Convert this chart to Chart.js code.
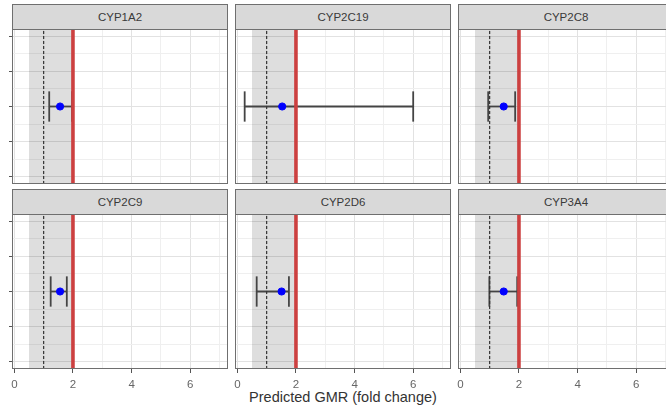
<!DOCTYPE html>
<html>
<head>
<meta charset="utf-8">
<script src="https://cdn.jsdelivr.net/npm/chart.js@4.4.0/dist/chart.umd.min.js"></script>
<style>
  body { margin: 0; background: #fff; }
  #wrap { position: relative; width: 666px; height: 410px; overflow: hidden; font-family: 'Liberation Sans', Arial, sans-serif; }
  #wrap canvas { position: absolute; left: 0; top: 0; }
  .strip { position: absolute; box-sizing: border-box; background: #d9d9d9; border: 1px solid #6f6f6f; color: #3a3a3a; font-size: 11.5px; line-height: 24px; text-align: center; }
  #xtitle { position: absolute; left: 185px; width: 316px; top: 389px; text-align: center; font-size: 14.5px; color: #333; }
</style>
</head>
<body>
<div id="wrap">
  <div id="xtitle">Predicted GMR (fold change)</div>
</div>
<script>
// facets and values
const enzymes = ['CYP1A2', 'CYP2C19', 'CYP2C8', 'CYP2C9', 'CYP2D6', 'CYP3A4'];
const gmr = [1.56, 1.53, 1.48, 1.56, 1.51, 1.48];
const lower = [1.19, 0.25, 0.95, 1.24, 0.66, 0.99];
const upper = [1.97, 6.0, 1.87, 1.79, 1.76, 1.94];
const yPos = 3;

// reference guides
const bandRange = [0.5, 2];
const refLine = 1;
const limitLine = 2;

// axes
const xLimits = [-0.08, 7.29];
const yLimits = [0.8, 5.2];
const xGrid = [0, 1, 2, 3, 4, 5, 6, 7];
const xTickLabels = [0, 2, 4, 6];
const yGrid = [1, 1.5, 2, 2.5, 3, 3.5, 4, 4.5, 5];

// layout
const W = 680, H = 410;
const colLeft = [12, 235, 458];
const rowTop = [29, 214];
const panelW = 216, panelH = 155, stripH = 25;
const xAxisH = 22;
const CAP = 0.43;
const majorGrid = '#e2e2e2', minorGrid = '#efefef';

Chart.defaults.font.family = "'Liberation Sans', Arial, sans-serif";

const panelPlugin = {
  id: 'panel',
  beforeDatasetsDraw(chart) {
    const { ctx, chartArea: a, scales: { x } } = chart;
    const x0 = x.getPixelForValue(bandRange[0]);
    const x1 = x.getPixelForValue(bandRange[1]);
    ctx.save();
    ctx.fillStyle = 'rgba(0,0,0,0.13)';
    ctx.fillRect(x0, a.top, x1 - x0, a.bottom - a.top);
    ctx.restore();
  },
  afterDraw(chart) {
    const { ctx, chartArea: a } = chart;
    ctx.save();
    ctx.strokeStyle = '#6f6f6f';
    ctx.lineWidth = 1;
    ctx.strokeRect(a.left + 0.5, a.top + 0.5, a.right - a.left - 1, a.bottom - a.top - 1);
    ctx.restore();
  }
};

const wrap = document.getElementById('wrap');

enzymes.forEach((name, i) => {
  const col = i % 3, row = Math.floor(i / 3);
  const left = colLeft[col], top = rowTop[row];
  const axisH = row === 1 ? xAxisH : 0;

  const strip = document.createElement('div');
  strip.className = 'strip';
  strip.style.left = left + 'px';
  strip.style.top = (top - stripH) + 'px';
  strip.style.width = panelW + 'px';
  strip.style.height = (stripH + 1) + 'px';
  strip.textContent = name;

  const canvas = document.createElement('canvas');
  canvas.width = W;
  canvas.height = H;
  wrap.appendChild(canvas);
  wrap.appendChild(strip);

  const errStyle = { type: 'line', borderColor: '#444', borderWidth: 1.8, pointRadius: 0 };

  new Chart(canvas, {
    type: 'scatter',
    data: {
      datasets: [
        { data: [{ x: gmr[i], y: yPos }], backgroundColor: '#0000ff', borderColor: '#0000ff', pointRadius: 3.6 },
        { type: 'line', data: [{ x: limitLine, y: yLimits[0] }, { x: limitLine, y: yLimits[1] }], borderColor: '#cc4040', borderWidth: 3.6, pointRadius: 0 },
        { type: 'line', data: [{ x: refLine, y: yLimits[0] }, { x: refLine, y: yLimits[1] }], borderColor: '#333', borderWidth: 1.2, borderDash: [3, 2], pointRadius: 0 },
        { ...errStyle, data: [{ x: lower[i], y: yPos }, { x: upper[i], y: yPos }] },
        { ...errStyle, data: [{ x: lower[i], y: yPos - CAP }, { x: lower[i], y: yPos + CAP }] },
        { ...errStyle, data: [{ x: upper[i], y: yPos - CAP }, { x: upper[i], y: yPos + CAP }] }
      ]
    },
    options: {
      responsive: false,
      animation: false,
      events: [],
      layout: { padding: { left: left, top: top, right: W - left - panelW, bottom: H - top - panelH - axisH } },
      plugins: { legend: { display: false }, tooltip: { enabled: false } },
      scales: {
        x: {
          type: 'linear',
          min: xLimits[0],
          max: xLimits[1],
          afterFit: s => { s.height = axisH; },
          afterBuildTicks: s => { s.ticks = xGrid.map(v => ({ value: v })); },
          border: { display: false },
          grid: {
            color: c => xTickLabels.includes(c.tick.value) ? majorGrid : minorGrid,
            lineWidth: 1,
            drawTicks: row === 1,
            tickLength: 4,
            tickColor: c => xTickLabels.includes(c.tick.value) ? '#555' : 'rgba(0,0,0,0)'
          },
          ticks: {
            display: row === 1,
            autoSkip: false,
            maxRotation: 0,
            padding: 5,
            color: '#666',
            font: { size: 11.5 },
            callback: v => xTickLabels.includes(v) ? String(v) : ''
          }
        },
        y: {
          type: 'linear',
          min: yLimits[0],
          max: yLimits[1],
          afterFit: s => { s.width = 0; },
          afterBuildTicks: s => { s.ticks = yGrid.map(v => ({ value: v })); },
          border: { display: false },
          grid: {
            color: c => Number.isInteger(c.tick.value) ? majorGrid : minorGrid,
            lineWidth: 1,
            drawTicks: col === 0,
            tickLength: 3,
            tickColor: c => Number.isInteger(c.tick.value) ? '#555' : 'rgba(0,0,0,0)'
          },
          ticks: { display: false }
        }
      }
    },
    plugins: [panelPlugin]
  });
});
</script>
</body>
</html>
